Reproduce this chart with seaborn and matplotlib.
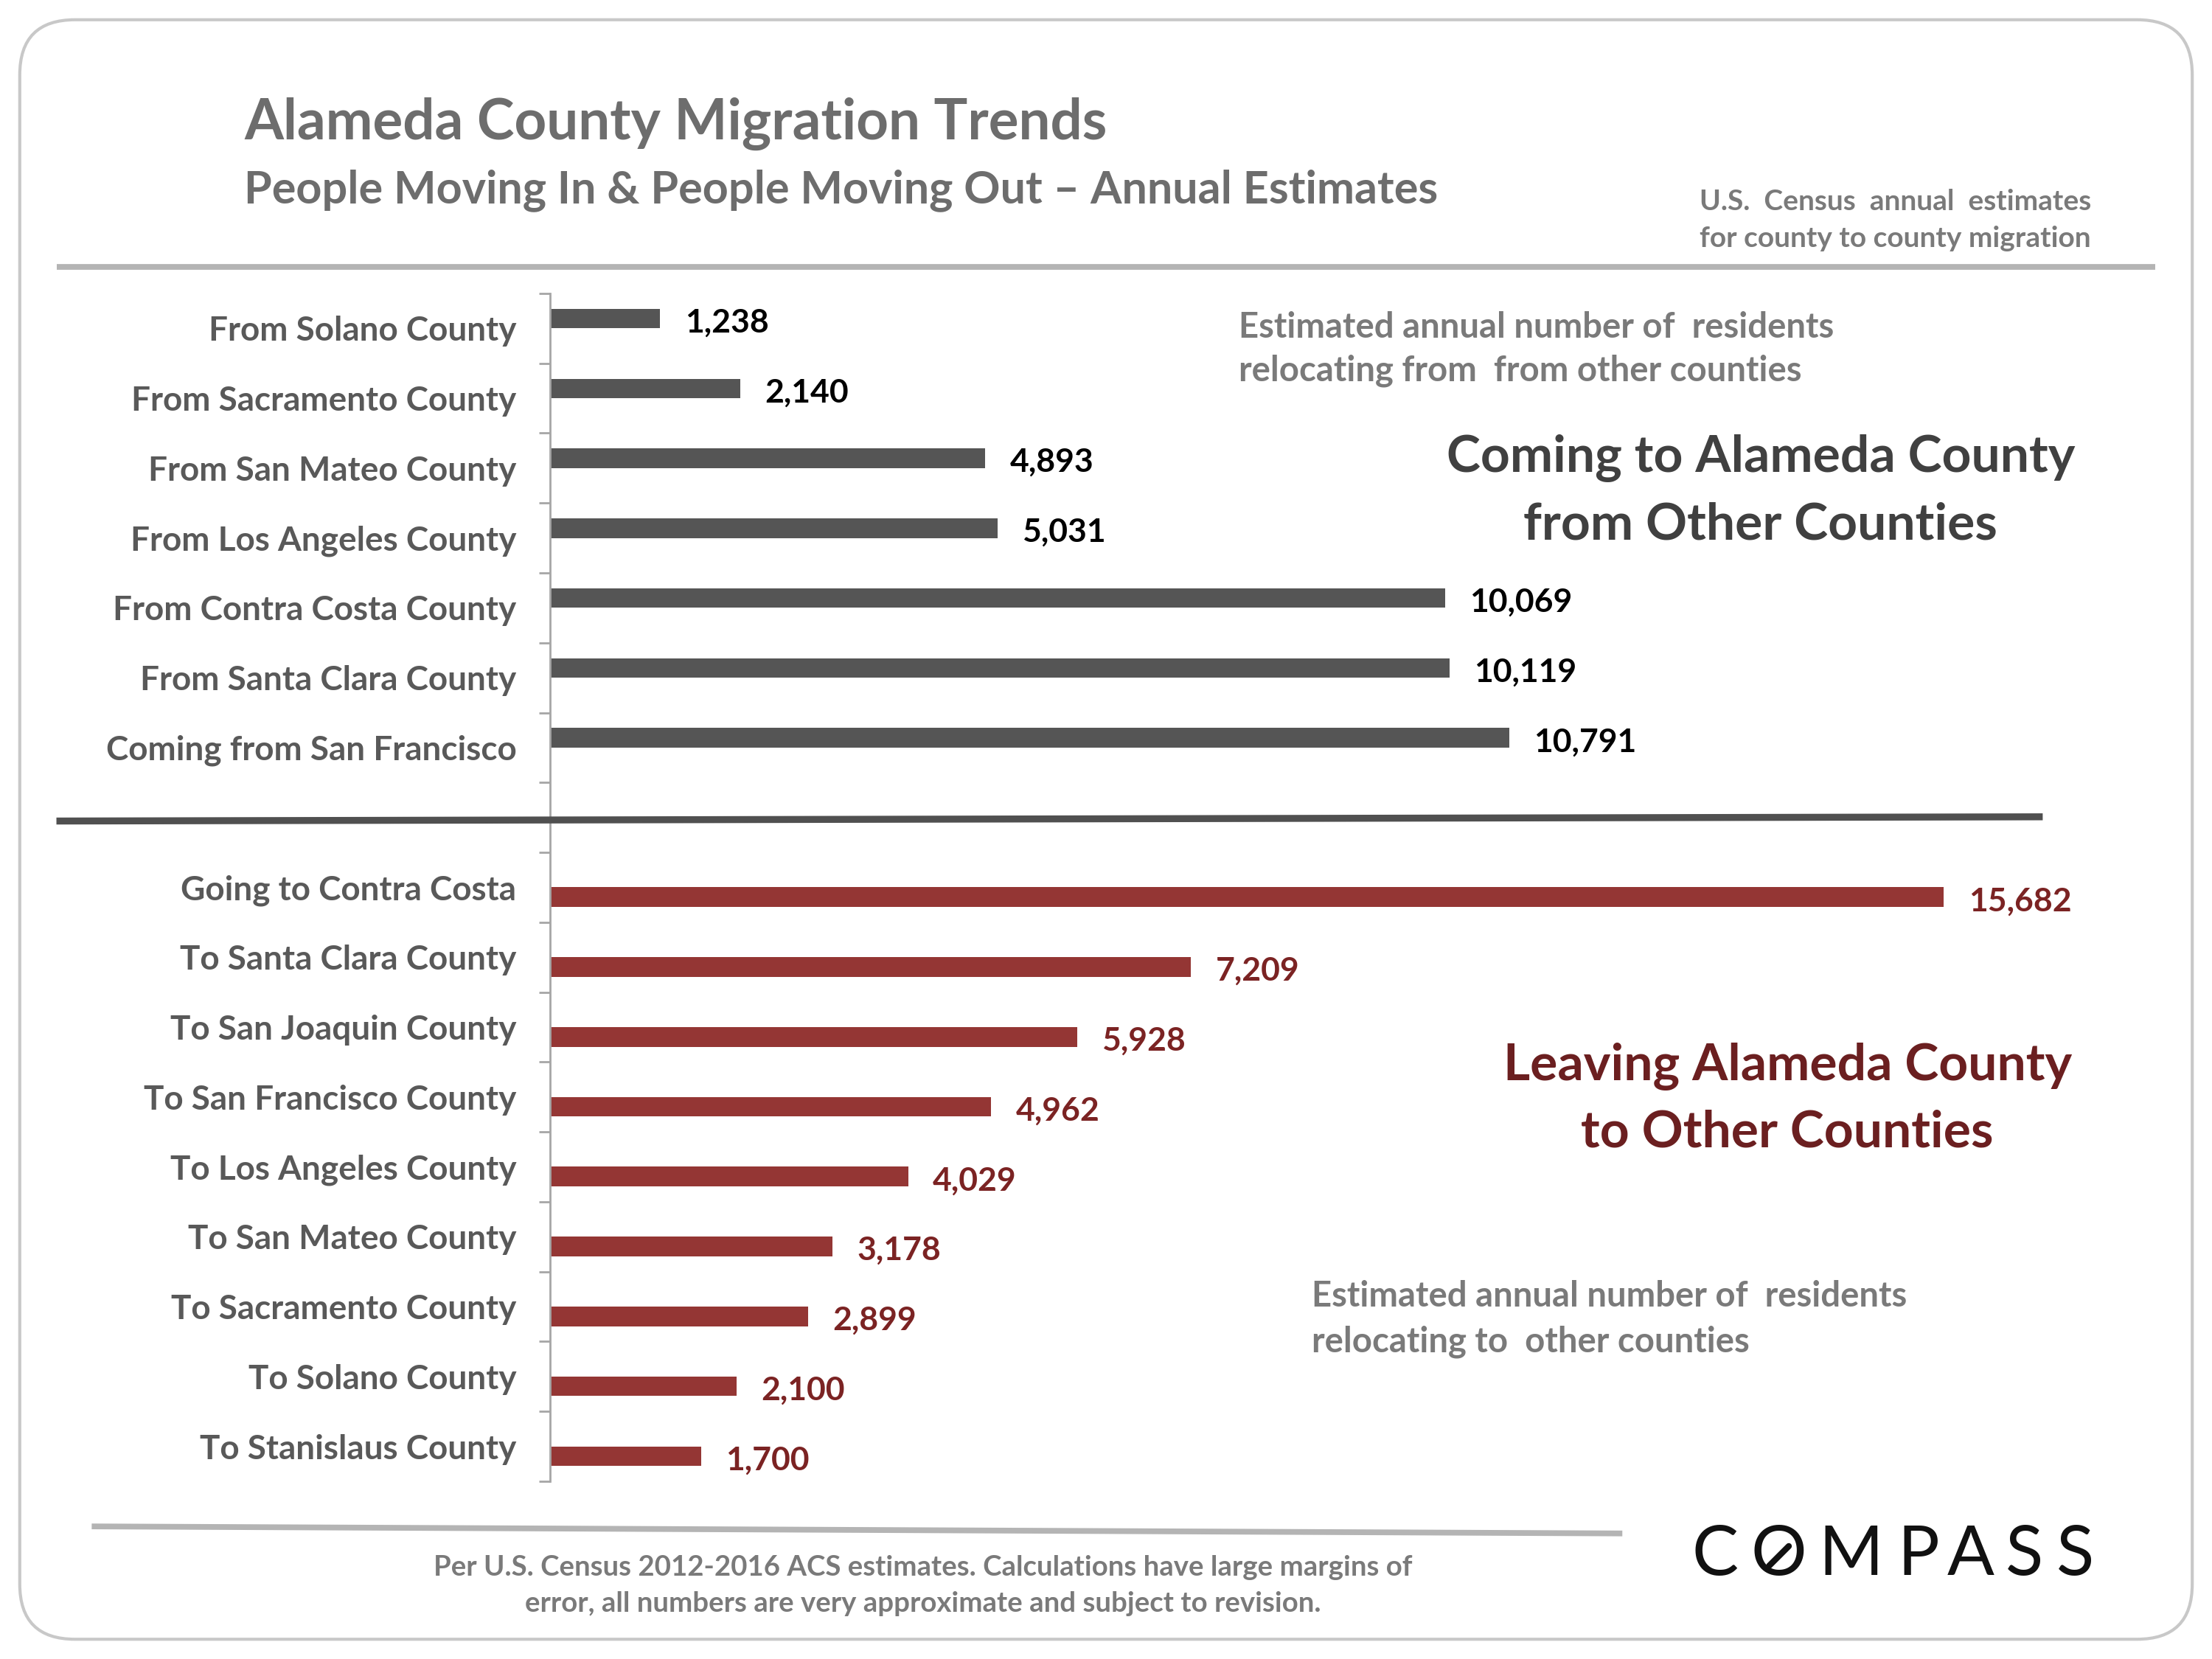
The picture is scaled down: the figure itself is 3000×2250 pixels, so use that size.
import numpy as np
import pandas as pd
import matplotlib
matplotlib.use("Agg")
import matplotlib.pyplot as plt
import seaborn as sns
from matplotlib.lines import Line2D
from matplotlib.patches import FancyBboxPatch

# Data
top_labels = ["From Solano County", "From Sacramento County", "From San Mateo County",
              "From Los Angeles County", "From Contra Costa County", "From Santa Clara County",
              "Coming from San Francisco"]
top_values = [1238, 2140, 4893, 5031, 10069, 10119, 10791]

bottom_labels = ["Going to Contra Costa", "To Santa Clara County", "To San Joaquin County",
                 "To San Francisco County", "To Los Angeles County", "To San Mateo County",
                 "To Sacramento County", "To Solano County", "To Stanislaus County"]
bottom_values = [15682, 7209, 5928, 4962, 4029, 3178, 2899, 2100, 1700]

sns.set_theme(style="white")
plt.rcParams["font.family"] = ["Lato", "DejaVu Sans"]

# layout is measured on a 1568 x 1176 view of the reference
W, H = 1568, 1176
def fx(x):
    return x / W
def fy(y):
    return 1 - y / H

TOP_COL = "#555555"
BOT_COL = "#943634"
AXIS_COL = "#a6a6a6"
LABEL_COL = "#595959"
GREY_TXT = "#7a7a7a"
XMAX = 17143

# one chart, two series (in / out), blank slot between the groups
df = pd.concat([
    pd.DataFrame({"label": top_labels, "value": top_values, "flow": "in"}),
    pd.DataFrame({"label": bottom_labels, "value": bottom_values, "flow": "out"}),
])
order = top_labels + [" "] + bottom_labels

fig = plt.figure(figsize=(15, 11.25), dpi=200)
fig.patch.set_facecolor("white")

# rounded frame
frame = FancyBboxPatch((fx(14), fy(1162)), fx(1554) - fx(14), fy(14) - fy(1162),
                       boxstyle="round,pad=0,rounding_size=0.025", mutation_aspect=15 / 11.25,
                       transform=fig.transFigure, facecolor="white", edgecolor="#c8c8c8",
                       linewidth=1.5, zorder=-5)
fig.add_artist(frame)

ax = fig.add_axes([fx(390), fy(1050), fx(1470) - fx(390), fy(208) - fy(1050)])
sns.barplot(data=df, x="value", y="label", hue="flow", hue_order=["in", "out"], order=order,
            palette={"in": TOP_COL, "out": BOT_COL}, width=0.56, dodge=True, saturation=1,
            orient="h", linewidth=0, edgecolor="none", legend=False, ax=ax)

for cont, vcol in zip(ax.containers, ["#000000", "#7b2323"]):
    labs = [f"{int(round(b.get_width())):,}" if b.get_width() > 0 else "" for b in cont]
    anns = ax.bar_label(cont, labels=labs, padding=12, fontsize=16, fontweight="bold",
                        color=vcol)
    for a in anns:
        a.xyann = (12, -2)

n = len(order)
ax.set_xlim(0, XMAX)
ax.set_ylim(n - 0.5, -0.5)
ax.set_xticks([])
ax.set_xlabel("")
ax.set_ylabel("")
ax.set_yticks(np.arange(-0.5, n), minor=True)
ax.tick_params(axis="y", which="minor", length=5.5, width=1, color=AXIS_COL, left=True)
ax.tick_params(axis="y", which="major", length=0, pad=16.5, labelsize=16.5,
               labelcolor=LABEL_COL)
for lbl in ax.get_yticklabels():
    lbl.set_fontweight("bold")
for side in ["top", "right", "bottom"]:
    ax.spines[side].set_visible(False)
ax.spines["left"].set_color(AXIS_COL)
ax.spines["left"].set_linewidth(1)
ax.set_facecolor("none")

# rules
fig.add_artist(Line2D([fx(40), fx(1528)], [fy(189), fy(189)], transform=fig.transFigure,
                      color="#b4b4b4", lw=2.8, solid_capstyle="butt"))
fig.add_artist(Line2D([fx(40), fx(1448)], [fy(582), fy(579)], transform=fig.transFigure,
                      color="#505050", lw=3.4, solid_capstyle="butt"))
fig.add_artist(Line2D([fx(65), fx(1150)], [fy(1082), fy(1087)], transform=fig.transFigure,
                      color="#b4b4b4", lw=2.8, solid_capstyle="butt"))

# titles
fig.text(fx(173), fy(88), "Alameda County Migration Trends", fontsize=27.5, fontweight="bold",
         color="#6d6d6d", va="center", ha="left")
fig.text(fx(173), fy(135), "People Moving In & People Moving Out \u2013 Annual Estimates",
         fontsize=22, fontweight="bold", color="#6d6d6d", va="center", ha="left")
fig.text(fx(1205), fy(143), "U.S.  Census  annual  estimates", fontsize=14, fontweight="bold",
         color=GREY_TXT, va="center", ha="left")
fig.text(fx(1205), fy(169), "for county to county migration", fontsize=14, fontweight="bold",
         color=GREY_TXT, va="center", ha="left")

# panel annotations
fig.text(fx(878), fy(232), "Estimated annual number of  residents", fontsize=17,
         fontweight="bold", color=GREY_TXT, va="center", ha="left")
fig.text(fx(878), fy(263), "relocating from  from other counties", fontsize=17,
         fontweight="bold", color=GREY_TXT, va="center", ha="left")
fig.text(fx(1248), fy(325), "Coming to Alameda County", fontsize=25, fontweight="bold",
         color="#404040", va="center", ha="center")
fig.text(fx(1248), fy(372), "from Other Counties", fontsize=25, fontweight="bold",
         color="#404040", va="center", ha="center")
fig.text(fx(1267), fy(756), "Leaving Alameda County", fontsize=25, fontweight="bold",
         color="#6b1f20", va="center", ha="center")
fig.text(fx(1267), fy(803), "to Other Counties", fontsize=25, fontweight="bold",
         color="#6b1f20", va="center", ha="center")
fig.text(fx(930), fy(919), "Estimated annual number of  residents", fontsize=17,
         fontweight="bold", color=GREY_TXT, va="center", ha="left")
fig.text(fx(930), fy(951), "relocating to  other counties", fontsize=17,
         fontweight="bold", color=GREY_TXT, va="center", ha="left")

# footnote
fig.text(fx(654), fy(1111),
         "Per U.S. Census 2012-2016 ACS estimates. Calculations have large margins of",
         fontsize=13.8, fontweight="bold", color=GREY_TXT, va="center", ha="center")
fig.text(fx(654), fy(1137),
         "error, all numbers are very approximate and subject to revision.",
         fontsize=13.8, fontweight="bold", color=GREY_TXT, va="center", ha="center")

# logo wordmark
logo_x = [1216, 1261, 1312, 1360, 1397, 1435, 1471]
for ch, xc in zip("COMPASS", logo_x):
    fig.text(fx(xc), fy(1103), ch, fontsize=34, color="#111111", va="center", ha="center")
fig.add_artist(Line2D([fx(1254), fx(1268)], [fy(1110), fy(1096)], transform=fig.transFigure,
                      color="#111111", lw=3, solid_capstyle="round"))

fig.savefig("out.png", dpi=200, facecolor="white")
